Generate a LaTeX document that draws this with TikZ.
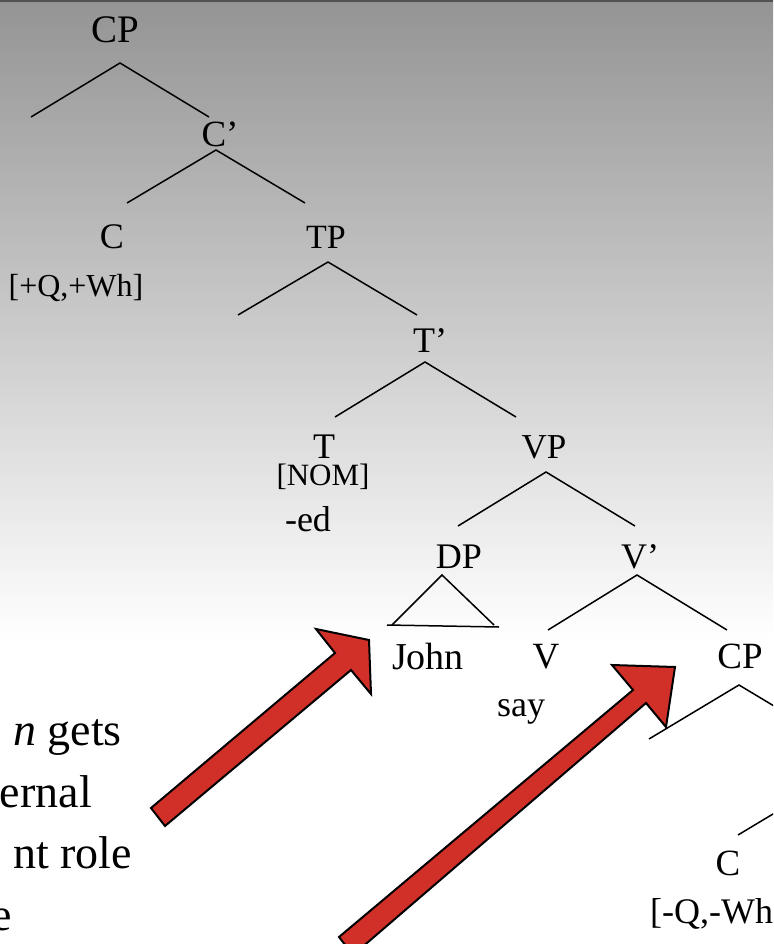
\documentclass[tikz,border=0pt]{standalone}
\usepackage{fontspec}
\setmainfont{Liberation Serif}
\definecolor{arrowred}{RGB}{208,48,40}
\newcommand{\fsz}[1]{\fontsize{#1}{#1}\selectfont}
\begin{document}
\begin{tikzpicture}[x=1pt,y=-1pt,
  lab/.style={anchor=base, inner sep=0pt, font=\fsz{36}},
  feat/.style={anchor=base, inner sep=0pt, font=\fsz{31}},
  bodytext/.style={anchor=base east, inner sep=0pt, font=\fsz{46}},
  branch/.style={line width=1.5pt},
  blockarrow/.style={fill=arrowred, draw=black, line width=2pt, line join=miter}]
\useasboundingbox (0,0) rectangle (773,944);
\clip (0,0) rectangle (773,944);
% background
\fill[white] (0,0) rectangle (773,944);
\shade[top color=black!42, bottom color=white] (0,0) rectangle (773,640);
\fill[black!68] (0,0) rectangle (773,2);

% labels
\node[lab, font=\fsz{39}] (cp1) at (115,43) {CP};
\node[lab, font=\fsz{37}] (cbar1) at (220,147) {C’};
\node[lab] (c1) at (112,248) {C};
\node[feat, font=\fsz{32}] (f1) at (76,296) {[+Q,+Wh]};
\node[lab, font=\fsz{34}] (tp) at (326,248) {TP};
\node[lab] (tbar) at (430,352) {T’};
\node[lab] (t) at (324,458) {T};
\node[feat] (nom) at (323,485) {[NOM]};
\node[lab] (ed) at (308,531) {-ed};
\node[lab, font=\fsz{35}] (vp) at (544,458) {VP};
\node[lab] (dp) at (459,568) {DP};
\node[lab] (vbar) at (640,568) {V’};
\node[lab, font=\fsz{38}] (john) at (428,669) {John};
\node[lab, font=\fsz{37}] (v) at (546,668) {V};
\node[lab] (say) at (521,716) {say};
\node[lab, font=\fsz{37}] (cp2) at (740,668) {CP};
\node[lab, font=\fsz{37}] (c2) at (728,875) {C};
\node[feat, font=\fsz{36}, anchor=base west] (f2) at (650,923) {[-Q,-Wh};

% left text
\node[bodytext] (b1) at (122,745) {\textit{n} gets};
\node[bodytext] (b2) at (92,807) {ernal};
\node[bodytext] (b3) at (132,868) {nt role};
\node[bodytext] (b4) at (12,930) {e};

% branch points
\coordinate (a1) at (120,63);  \coordinate (a1l) at (31,117);  \coordinate (a1r) at (209,117);
\coordinate (a2) at (216,150); \coordinate (a2l) at (127,203); \coordinate (a2r) at (305,203);
\coordinate (a3) at (328,262); \coordinate (a3l) at (238,315); \coordinate (a3r) at (417,315);
\coordinate (a4) at (425,362); \coordinate (a4l) at (335,417); \coordinate (a4r) at (516,417);
\coordinate (a5) at (546,472); \coordinate (a5l) at (458,526); \coordinate (a5r) at (635,526);
\coordinate (a6) at (442,575); \coordinate (a6l) at (392,625); \coordinate (a6r) at (494,625);
\coordinate (b6l) at (387,625); \coordinate (b6r) at (499,627);
\coordinate (a7) at (637,575); \coordinate (a7l) at (548,630); \coordinate (a7r) at (727,630);
\coordinate (a8) at (739,685); \coordinate (a8l) at (649,739); \coordinate (a8r) at (829,739);
\coordinate (a9) at (828,781); \coordinate (a9l) at (738,835);

\draw[branch] (a1l) -- (a1) -- (a1r);
\draw[branch] (a2l) -- (a2) -- (a2r);
\draw[branch] (a3l) -- (a3) -- (a3r);
\draw[branch] (a4l) -- (a4) -- (a4r);
\draw[branch] (a5l) -- (a5) -- (a5r);
\draw[branch] (a6l) -- (a6) -- (a6r);
\draw[branch] (b6l) -- (b6r);
\draw[branch] (a7l) -- (a7) -- (a7r);
\draw[branch] (a8l) -- (a8) -- (a8r);
\draw[branch] (a9l) -- (a9);

% block arrows
\draw[blockarrow] (165,826) -- (351,670) -- (371,694) -- (369,640) -- (316,629) -- (335,653) -- (151,808) -- cycle;
\draw[blockarrow] (353,955) -- (646,703) -- (666,727) -- (675,667) -- (612,665) -- (633,690) -- (339,937) -- cycle;
\end{tikzpicture}
\end{document}
